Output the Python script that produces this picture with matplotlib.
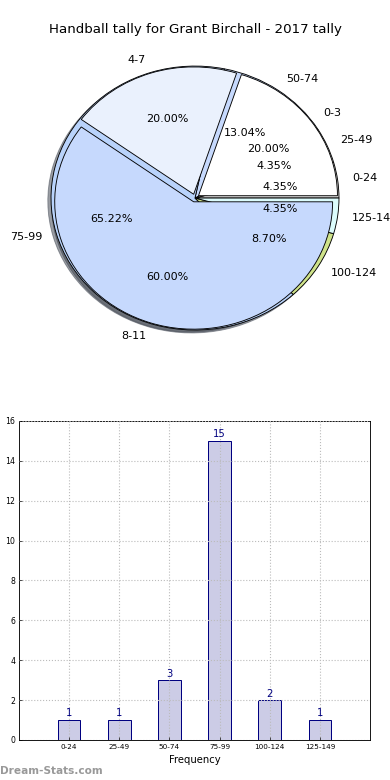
import matplotlib
matplotlib.use("Agg")
import matplotlib.pyplot as plt

title = "Handball tally for Grant Birchall - 2017 tally"

# Pie 1 (tally groups)
tally_labels = ["0-3", "4-7", "8-11"]
tally_values = [20.0, 20.0, 60.0]
tally_colors = ["#ffffff", "#eaf1fd", "#c6d9fd"]

# Pie 2 / bars (frequency bins)
bins = ["0-24", "25-49", "50-74", "75-99", "100-124", "125-149"]
counts = [1, 1, 3, 15, 2, 1]
bin_colors = ["#d8d8d8", "#eeeeee", "#c6d9fd", "#b9d3fb", "#cfe38a", "#dcfcfc"]

yticks = [0, 2, 4, 6, 8, 10, 12, 14, 16]

fig = plt.figure(figsize=(4.875, 9.75), dpi=80)

# ---- Pie chart ----
ax1 = fig.add_axes([0.0385, 0.5346, 0.923, 0.423])
ax1.pie(counts, labels=bins, colors=bin_colors, autopct="%1.2f%%",
        startangle=0, shadow=True,
        wedgeprops=dict(edgecolor="black", linewidth=0.8),
        textprops=dict(fontsize=10))
r1 = 0.965
ax1.pie(tally_values, labels=tally_labels, colors=tally_colors, autopct="%1.2f%%",
        startangle=0, shadow=True, explode=[0.03, 0.03, 0.03], radius=r1,
        labeldistance=1.07 / r1, pctdistance=0.6 / r1,
        wedgeprops=dict(edgecolor="black", linewidth=0.8),
        textprops=dict(fontsize=10))
ax1.set_aspect("auto")
ax1.set_xlim(-1.25, 1.25)
ax1.set_ylim(-1.25, 1.25)
ax1.axis("off")

fig.text(0.5, 1 - 30 / 780, title, ha="center", va="center", fontsize=12)

# ---- Bar chart ----
ax2 = fig.add_axes([0.0487, 0.0513, 0.9, 0.409])
x = list(range(1, len(bins) + 1))
ax2.bar(x, counts, width=0.45, color="#ccccE6", edgecolor="#000080",
        linewidth=0.9, zorder=2)
for xi, c in zip(x, counts):
    ax2.text(xi, c + 0.08, str(c), ha="center", va="bottom", color="#000080",
             fontsize=9, zorder=4)
ax2.set_xlim(0, 7)
ax2.set_ylim(0, 16)
ax2.set_xticks(x)
ax2.set_xticklabels(bins, fontsize=6.5)
ax2.set_yticks(yticks)
ax2.set_yticklabels([str(v) for v in yticks], fontsize=7)
ax2.tick_params(direction="in", length=3, width=0.6)
ax2.grid(True, linestyle=":", color="#bbbbbb", linewidth=1.0, zorder=3)
ax2.set_axisbelow(False)
ax2.set_xlabel("Frequency", fontsize=9, labelpad=5)
for s in ax2.spines.values():
    s.set_linewidth(0.8)

fig.text(-0.006, 0.256, "Stat Instances", rotation=90, ha="center", va="center",
         fontsize=8)
fig.text(0.0, 0.012, "Dream-Stats.com", ha="left", va="center", fontsize=9.5,
         color="#999999", fontweight="bold")

fig.savefig("out.png", dpi=80)
